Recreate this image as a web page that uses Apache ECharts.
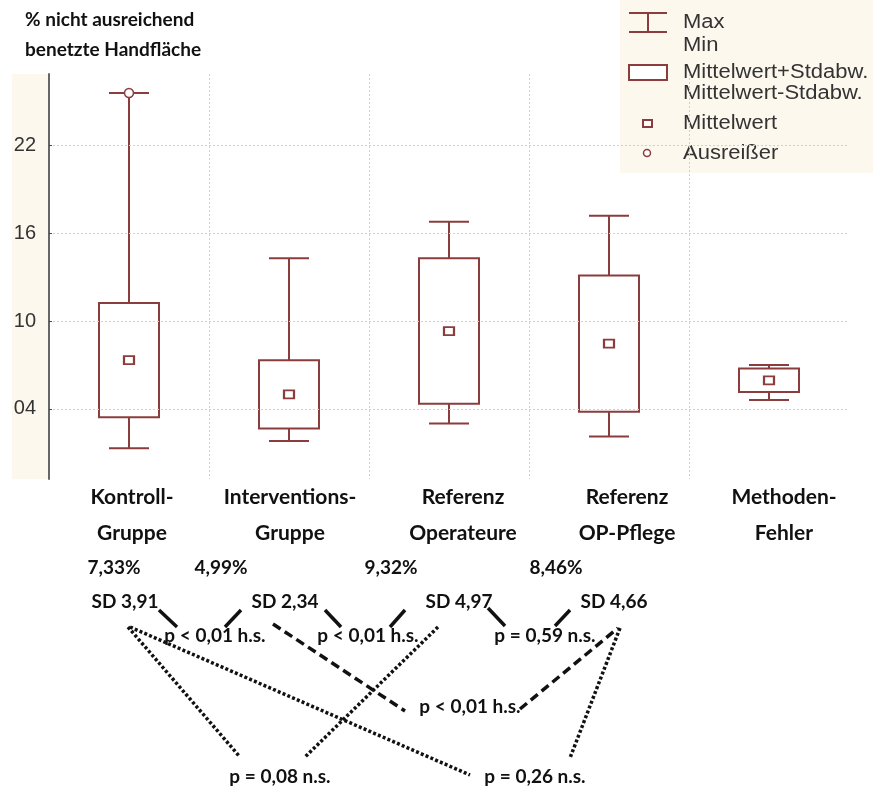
<!DOCTYPE html>
<html><head><meta charset="utf-8">
<script src="https://cdn.jsdelivr.net/npm/echarts@6/dist/echarts.min.js"></script>
<style>html,body{margin:0;padding:0;background:#fff}#c{width:873px;height:787px}</style>
</head><body><div id="c"></div><script>
// ---- data ----
const categories = ['Kontroll-\nGruppe', 'Interventions-\nGruppe', 'Referenz\nOperateure', 'Referenz\nOP-Pflege', 'Methoden-\nFehler'];
const meanValues = [7.33, 4.99, 9.32, 8.46, 5.95];
const sdValues = [3.91, 2.34, 4.97, 4.66, 0.80];
const minValues = [1.3, 1.8, 3.0, 2.1, 4.6];
const maxValues = [25.6, 14.3, 16.8, 17.2, 7.0];
const outlierValues = [[0, 25.6]];
const yTickValues = [4, 10, 16, 22];
const reportedGroups = 4;
const pValueLabels = ['p < 0,01 h.s.', 'p < 0,01 h.s.', 'p = 0,59 n.s.', 'p < 0,01 h.s.', 'p = 0,08 n.s.', 'p = 0,26 n.s.'];
const legendLabels = ['Max', 'Min', 'Mittelwert+Stdabw.', 'Mittelwert-Stdabw.', 'Mittelwert', 'Ausreißer'];
const titleLines = ['% nicht ausreichend', 'benetzte Handfläche'];

// ---- styles / layout ----
const BOX = '#8b3d3d';
const BEIGE = '#fdf8ee';
const BOLD = 'Lato, "Open Sans", sans-serif';
const ARIAL = '"Liberation Sans", Arial, sans-serif';
const labelOffsets = [3, 1, 14, 18, 15];
const meanLabelPos = [[114, 568], [221, 568], [391, 568], [556, 568]];
const sdLabelPos = [[125, 602], [285, 602], [459, 602], [614, 602]];
const pLabelPos = [[215, 636], [368, 636], [545, 636], [470, 707], [280, 777], [535, 777]];
const solidLines = [[159,610,177,627],[241,610,225,627],[325,610,341,627],[405,610,390,627],[488,608,505,626],[570,610,555,626]];
const dashedLines = [[273,624,405,711],[520,709,618,628]];
const dottedLines = [[128,627,240,757],[130,627,470,775],[438,627,305,757],[620,628,570,758]];

const fmt = v => v.toFixed(2).replace('.', ',');
const boxData = categories.map((c, i) => [i, minValues[i], meanValues[i] - sdValues[i], meanValues[i] + sdValues[i], maxValues[i]]);
const meanData = categories.map((c, i) => [i, meanValues[i]]);

function renderBox(params, api) {
  const i = api.value(0);
  const pMin = api.coord([i, api.value(1)]);
  const pLow = api.coord([i, api.value(2)]);
  const pHigh = api.coord([i, api.value(3)]);
  const pMax = api.coord([i, api.value(4)]);
  const band = api.size([1, 0])[0];
  const bw = band * 0.375, cw = band * 0.25;
  const x = Math.round(pMin[0]);
  const st = { stroke: BOX, lineWidth: 2, fill: null };
  return { type: 'group', children: [
    { type: 'line', shape: { x1: x - cw / 2, y1: pMax[1], x2: x + cw / 2, y2: pMax[1] }, style: st },
    { type: 'line', shape: { x1: x, y1: pMax[1], x2: x, y2: pHigh[1] }, style: st },
    { type: 'rect', shape: { x: x - bw / 2, y: pHigh[1], width: bw, height: pLow[1] - pHigh[1] }, style: { stroke: BOX, lineWidth: 2, fill: '#fff' } },
    { type: 'line', shape: { x1: x, y1: pLow[1], x2: x, y2: pMin[1] }, style: st },
    { type: 'line', shape: { x1: x - cw / 2, y1: pMin[1], x2: x + cw / 2, y2: pMin[1] }, style: st }
  ]};
}

const rich = {};
labelOffsets.forEach((o, i) => {
  rich['c' + i] = { fontFamily: BOLD, fontWeight: 'bold', fontSize: 21, color: '#111', lineHeight: 36, padding: [0, 0, 0, 2 * o] };
});

const graphics = [];
graphics.push({ type: 'rect', z: -10, shape: { x: 12, y: 74, width: 36, height: 405 }, style: { fill: BEIGE } });
graphics.push({ type: 'rect', z: -10, shape: { x: 620, y: 0, width: 253, height: 173 }, style: { fill: BEIGE } });
// title
graphics.push({ type: 'text', x: 25, y: 5, style: { text: titleLines.join('\n'), font: 'bold 19px ' + BOLD, lineHeight: 30, fill: '#111' } });
// legend icons
const lg = { stroke: BOX, lineWidth: 2, fill: null };
graphics.push({ type: 'line', shape: { x1: 629, y1: 13, x2: 667, y2: 13 }, style: lg });
graphics.push({ type: 'line', shape: { x1: 648, y1: 13, x2: 648, y2: 32 }, style: lg });
graphics.push({ type: 'line', shape: { x1: 629, y1: 32, x2: 667, y2: 32 }, style: lg });
graphics.push({ type: 'rect', shape: { x: 629, y: 65, width: 38, height: 15 }, style: { stroke: BOX, lineWidth: 2, fill: '#fff' } });
graphics.push({ type: 'rect', shape: { x: 643, y: 120, width: 9, height: 7 }, style: { stroke: BOX, lineWidth: 2, fill: '#fff' } });
graphics.push({ type: 'circle', shape: { cx: 647, cy: 153, r: 3.5 }, style: { stroke: BOX, lineWidth: 1.5, fill: '#fff' } });
const legendY = [22, 45, 72, 93, 123, 153];
legendLabels.forEach((t, i) => {
  graphics.push({ type: 'text', x: 683, y: legendY[i], scaleX: 1.1, style: { text: t, font: '20px ' + ARIAL, fill: '#333', textVerticalAlign: 'middle' } });
});
// stats text
for (let i = 0; i < reportedGroups; i++) {
  graphics.push({ type: 'text', x: meanLabelPos[i][0], y: meanLabelPos[i][1], style: { text: fmt(meanValues[i]) + '%', font: 'bold 19px ' + BOLD, fill: '#111', textAlign: 'center', textVerticalAlign: 'middle' } });
  graphics.push({ type: 'text', x: sdLabelPos[i][0], y: sdLabelPos[i][1], style: { text: 'SD ' + fmt(sdValues[i]), font: 'bold 19px ' + BOLD, fill: '#111', textAlign: 'center', textVerticalAlign: 'middle' } });
}
pValueLabels.forEach((t, i) => {
  graphics.push({ type: 'text', x: pLabelPos[i][0], y: pLabelPos[i][1], style: { text: t, font: 'bold 19px ' + BOLD, fill: '#111', textAlign: 'center', textVerticalAlign: 'middle' } });
});
solidLines.forEach(l => graphics.push({ type: 'line', shape: { x1: l[0], y1: l[1], x2: l[2], y2: l[3] }, style: { stroke: '#111', lineWidth: 3.5 } }));
dashedLines.forEach(l => graphics.push({ type: 'line', shape: { x1: l[0], y1: l[1], x2: l[2], y2: l[3] }, style: { stroke: '#111', lineWidth: 3.5, lineDash: [9, 5] } }));
dottedLines.forEach(l => graphics.push({ type: 'line', shape: { x1: l[0], y1: l[1], x2: l[2], y2: l[3] }, style: { stroke: '#111', lineWidth: 3.5, lineDash: [3, 2.2] } }));

const chart = echarts.init(document.getElementById('c'), null, { renderer: 'canvas' });
chart.setOption({
  backgroundColor: '#fff',
  animation: false,
  grid: { left: 49, right: 24, top: 74, bottom: 308 },
  xAxis: {
    type: 'category', data: categories, boundaryGap: true,
    axisLine: { show: false }, axisTick: { show: false },
    splitLine: { show: true, showMaxLine: false, lineStyle: { color: '#cfcfcf', type: [2, 2], width: 1 } },
    axisLabel: {
      margin: 0, interval: 0,
      formatter: (v, i) => v.split('\n').map(s => '{c' + i + '|' + s + '}').join('\n'),
      rich: rich
    }
  },
  yAxis: {
    type: 'value', min: -0.8, max: 26.9, z: 5,
    axisLine: { show: true, lineStyle: { color: '#666', width: 2 } },
    axisTick: { show: true, inside: true, length: 3, customValues: yTickValues, lineStyle: { color: '#444' } },
    axisLabel: { customValues: yTickValues, formatter: v => String(v).padStart(2, '0'), fontFamily: ARIAL, fontSize: 20, color: '#333', margin: 13 },
    splitLine: { show: true, lineStyle: { color: '#cfcfcf', type: [2, 2], width: 1 } }
  },
  graphic: graphics,
  series: [
    { type: 'custom', name: 'box', renderItem: renderBox, data: boxData, encode: { x: 0, y: [1, 2, 3, 4] }, z: 2 },
    { type: 'scatter', name: 'Mittelwert', data: meanData, symbol: 'rect', symbolSize: [10, 8], itemStyle: { color: '#fff', borderColor: BOX, borderWidth: 2, opacity: 1 }, z: 3 },
    { type: 'scatter', name: 'Ausreißer', data: outlierValues, symbol: 'circle', symbolSize: 9, itemStyle: { color: '#fff', borderColor: BOX, borderWidth: 1.5, opacity: 1 }, z: 4 }
  ]
});
</script></body></html>
